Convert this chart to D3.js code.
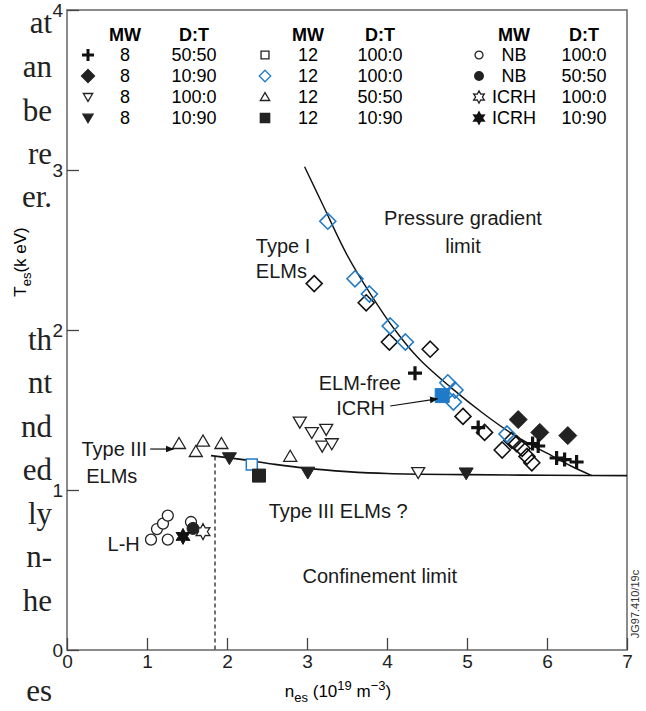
<!DOCTYPE html>
<html>
<head>
<meta charset="utf-8">
<script src="https://cdn.jsdelivr.net/npm/d3@7"></script>
<style>
  body { margin: 0; background: #fff; }
  svg { font-family: "Liberation Sans", Arial, sans-serif; }
</style>
</head>
<body>
<div id="chart"></div>
<script>
// values: [n_es, T_es]
var plus8_5050  = [[4.35,1.73],[5.14,1.39],[5.82,1.29],[5.89,1.275],[6.12,1.2],[6.22,1.19],[6.37,1.175]];
var dia8_1090   = [[5.64,1.44],[5.91,1.36],[6.26,1.34]];
var tdn8_1000   = [[2.91,1.425],[3.06,1.36],[3.24,1.38],[3.19,1.275],[3.31,1.29],[4.39,1.11]];
var tdnF8_1090  = [[2.03,1.2],[3.01,1.11],[4.99,1.105]];
var sq12_1000   = [[2.35,1.13]];
var diaB12_1000 = [[3.26,2.68],[3.6,2.32],[3.78,2.225],[4.04,2.025],[4.23,1.925],[4.76,1.67],[4.85,1.625],[4.83,1.55],[5.5,1.35]];
var tup12_5050  = [[1.4,1.29],[1.7,1.305],[1.61,1.24],[1.93,1.29],[2.79,1.21]];
var sqF12_1090  = [[2.4,1.09]];
var diaOpen     = [[3.09,2.29],[3.74,2.17],[4.03,1.925],[4.54,1.88],[4.95,1.46],[5.22,1.36],[5.44,1.25],[5.56,1.31],[5.62,1.29],[5.69,1.26],[5.75,1.21],[5.81,1.17]];
var elmFree     = [[4.69,1.59]];
var nb_1000     = [[1.05,0.69],[1.125,0.756],[1.2,0.79],[1.26,0.84],[1.26,0.69],[1.55,0.8]];
var nb_5050     = [[1.575,0.76]];
var icrh_1000   = [[1.7,0.74]];
var icrh_1090   = [[1.45,0.71]];

// limit curves
var pressureCurve = [[2.97,3.02],[3.2,2.78],[3.5,2.47],[3.8,2.22],[4.1,2.0],[4.4,1.82],[4.8,1.64],[5.2,1.48],[5.6,1.34],[6.0,1.23],[6.3,1.15],[6.56,1.09]];
var typeIIICurve  = [[1.8,1.215],[2.2,1.19],[2.6,1.16],[3.0,1.135],[3.5,1.115],[4.0,1.103],[5.0,1.096],[6.0,1.092],[7.0,1.09]];
var lhLine = [[1.85,1.21],[1.85,0]];

var xTicks = [0,1,2,3,4,5,6,7];
var yTicks = [0,1,2,3,4];

// legend columns: [symbol, MW, D:T]
var legendCols = [
  [["plus","8","50:50"],["diaF","8","10:90"],["tdn","8","100:0"],["tdnF","8","10:90"]],
  [["sq","12","100:0"],["diaB","12","100:0"],["tup","12","50:50"],["sqF","12","10:90"]],
  [["circ","NB","100:0"],["circF","NB","50:50"],["star","ICRH","100:0"],["starF","ICRH","10:90"]]
];

// clipped page text on the left
var pageText = ["at","an","be","re","er.","th","nt","nd","ed","ly","n-","he","es"];
var pageTextY = [22,66,110,153,196,339,382,426,469,513,556,600,690];

var W = 646, H = 711;
var svg = d3.select("#chart").append("svg")
  .attr("width", W).attr("height", H);

var x = d3.scaleLinear().domain([0,7]).range([67,627]);
var y = d3.scaleLinear().domain([0,4]).range([650,10]);

// page text fragments
svg.append("g").selectAll("text")
  .data(pageText)
  .join("text")
  .attr("x", 52)
  .attr("y", (d,i) => pageTextY[i])
  .attr("dy", "0.35em")
  .attr("text-anchor", "end")
  .attr("fill", "#222")
  .style("font-family", "'Liberation Serif', 'Times New Roman', serif")
  .style("font-size", "31px")
  .text(d => d);

// frame
svg.append("rect")
  .attr("x", x(0)).attr("y", y(4))
  .attr("width", x(7) - x(0)).attr("height", y(0) - y(4))
  .attr("fill", "none").attr("stroke", "#6e6e6e").attr("stroke-width", 1.6);

// axes (ticks pointing inward)
var xAxis = svg.append("g")
  .attr("transform", "translate(0," + y(0) + ")")
  .call(d3.axisBottom(x).tickValues(xTicks).tickSize(-12).tickPadding(5).tickFormat(d3.format("d")));
var yAxis = svg.append("g")
  .attr("transform", "translate(" + x(0) + ",0)")
  .call(d3.axisLeft(y).tickValues(yTicks).tickSize(-12).tickPadding(4).tickFormat(d3.format("d")));
[xAxis, yAxis].forEach(function(a) {
  a.select(".domain").remove();
  a.selectAll("line").attr("stroke", "#444").attr("stroke-width", 1.3);
  a.selectAll("text").style("font-size", "19px").attr("fill", "#222")
    .style("font-family", "'Liberation Sans', Arial, sans-serif");
});

// axis titles
var xt = svg.append("text")
  .attr("x", 338).attr("y", 697)
  .attr("text-anchor", "middle")
  .style("font-size", "17px");
xt.append("tspan").text("n");
xt.append("tspan").text("es").attr("dy", 5).style("font-size", "13px");
xt.append("tspan").text(" (10").attr("dy", -5);
xt.append("tspan").text("19").attr("dy", -7).style("font-size", "13px");
xt.append("tspan").text(" m").attr("dy", 7);
xt.append("tspan").text("\u22123").attr("dy", -7).style("font-size", "13px");
xt.append("tspan").text(")").attr("dy", 7);

var yt = svg.append("text")
  .attr("transform", "translate(26,262) rotate(-90)")
  .attr("text-anchor", "middle")
  .style("font-size", "17px");
yt.append("tspan").text("T");
yt.append("tspan").text("es").attr("dy", 5).style("font-size", "13px");
yt.append("tspan").text("(k eV)").attr("dy", -5);

// curves
var line = d3.line().x(d => x(d[0])).y(d => y(d[1])).curve(d3.curveMonotoneX);
svg.append("path").datum(pressureCurve)
  .attr("d", d3.line().x(d => x(d[0])).y(d => y(d[1])).curve(d3.curveCatmullRom))
  .attr("fill", "none").attr("stroke", "#111").attr("stroke-width", 1.4);
svg.append("path").datum(typeIIICurve)
  .attr("d", line)
  .attr("fill", "none").attr("stroke", "#111").attr("stroke-width", 1.6);
svg.append("path").datum(lhLine)
  .attr("d", d3.line().x(d => x(d[0])).y(d => y(d[1])))
  .attr("fill", "none").attr("stroke", "#111").attr("stroke-width", 1.2)
  .attr("stroke-dasharray", "4,3");

// marker shapes
function shape(t, s) {
  if (t === "plus") return "M" + (-s) + ",0H" + s + "M0," + (-s) + "V" + s;
  if (t.indexOf("dia") === 0) return "M0," + (-s) + "L" + s + ",0L0," + s + "L" + (-s) + ",0Z";
  if (t.indexOf("tdn") === 0) return "M" + (-s) + "," + (-s*0.75) + "L" + s + "," + (-s*0.75) + "L0," + (s*0.95) + "Z";
  if (t.indexOf("tup") === 0) return "M" + (-s) + "," + (s*0.75) + "L" + s + "," + (s*0.75) + "L0," + (-s*0.95) + "Z";
  if (t.indexOf("sq") === 0) return "M" + (-s) + "," + (-s) + "H" + s + "V" + s + "H" + (-s) + "Z";
  if (t.indexOf("circ") === 0) return d3.arc()({innerRadius: 0, outerRadius: s, startAngle: 0, endAngle: 2 * Math.PI});
  if (t.indexOf("star") === 0) {
    var p = [];
    for (var i = 0; i < 12; i++) {
      var r = i % 2 ? s * 0.55 : s, a = i * Math.PI / 6;
      p.push([r * Math.sin(a), -r * Math.cos(a)]);
    }
    return "M" + p.join("L") + "Z";
  }
}
var blue = "#1f7bc8";
var styles = {
  plus:  {s: 7,   fill: "none", stroke: "#111", sw: 3.2},
  diaF:  {s: 9,   fill: "#222", stroke: "#222", sw: 1},
  tdn:   {s: 6.5, fill: "#fff", stroke: "#222", sw: 1.3},
  tdnF:  {s: 7,   fill: "#222", stroke: "#222", sw: 1},
  sq:    {s: 5.5, fill: "#fff", stroke: blue,   sw: 1.5},
  diaB:  {s: 8,   fill: "none", stroke: blue,   sw: 1.6},
  tup:   {s: 6.5, fill: "#fff", stroke: "#222", sw: 1.3},
  sqF:   {s: 6.5, fill: "#222", stroke: "#222", sw: 1},
  diaO:  {s: 8,   fill: "none", stroke: "#111", sw: 1.6},
  sqB:   {s: 7,   fill: blue,   stroke: blue,   sw: 1},
  circ:  {s: 5.5, fill: "#fff", stroke: "#222", sw: 1.3},
  circF: {s: 6,   fill: "#222", stroke: "#222", sw: 1},
  star:  {s: 8,   fill: "#fff", stroke: "#222", sw: 1.2},
  starF: {s: 8,   fill: "#111", stroke: "#111", sw: 1}
};

function plot(data, t) {
  var st = styles[t];
  svg.append("g").selectAll("path")
    .data(data)
    .join("path")
    .attr("transform", d => "translate(" + x(d[0]) + "," + y(d[1]) + ")")
    .attr("d", shape(t, st.s))
    .attr("fill", st.fill).attr("stroke", st.stroke).attr("stroke-width", st.sw);
}
plot(tup12_5050, "tup");
plot(tdn8_1000, "tdn");
plot(tdnF8_1090, "tdnF");
plot(sq12_1000.map(d => [d[0] - 0.04, d[1] + 0.03]), "sq");
plot(sqF12_1090, "sqF");
plot(diaOpen, "diaO");
plot(diaB12_1000, "diaB");
plot(dia8_1090, "diaF");
plot(plus8_5050, "plus");
plot(elmFree, "sqB");
plot(nb_1000, "circ");
plot(icrh_1000, "star");
plot(nb_5050, "circF");
plot(icrh_1090, "starF");

// legend
var colX = [[88,125,194],[265,308,380],[479,514,584]];
var rowY = [55,76,97,118];
colX.forEach(function(c, ci) {
  svg.append("text").attr("x", c[1]).attr("y", 35).attr("dy", "0.35em")
    .attr("text-anchor", "middle").style("font-size", "18px").style("font-weight", "bold").text("MW");
  svg.append("text").attr("x", c[2]).attr("y", 35).attr("dy", "0.35em")
    .attr("text-anchor", "middle").style("font-size", "18px").style("font-weight", "bold").text("D:T");
  legendCols[ci].forEach(function(r, ri) {
    var st = styles[r[0]];
    var ls = r[0] === "plus" ? 6 : (r[0].indexOf("star") === 0 ? 6.2 : st.s * 0.72);
    svg.append("path")
      .attr("transform", "translate(" + c[0] + "," + rowY[ri] + ")")
      .attr("d", shape(r[0], ls))
      .attr("fill", st.fill).attr("stroke", r[0] === "sq" ? "#222" : st.stroke)
      .attr("stroke-width", r[0] === "plus" ? 3 : 1.3);
    svg.append("text").attr("x", c[1]).attr("y", rowY[ri]).attr("dy", "0.35em")
      .attr("text-anchor", "middle").style("font-size", "18px").text(r[1]);
    svg.append("text").attr("x", c[2]).attr("y", rowY[ri]).attr("dy", "0.35em")
      .attr("text-anchor", "middle").style("font-size", "18px").text(r[2]);
  });
});

// annotations [text, n, T, anchor]
var notes = [
  ["Pressure gradient", 4.95, 2.7, "middle"],
  ["limit", 4.95, 2.525, "middle"],
  ["Type I", 2.36, 2.525, "start"],
  ["ELMs", 2.36, 2.37, "start"],
  ["ELM-free", 3.66, 1.67, "middle"],
  ["ICRH", 3.67, 1.51, "middle"],
  ["Type III", 1.0, 1.256, "end"],
  ["ELMs", 0.56, 1.0875, "middle"],
  ["Type III ELMs ?", 3.39, 0.87, "middle"],
  ["L-H", 0.91, 0.66, "end"],
  ["Confinement limit", 3.91, 0.46, "middle"]
];
svg.append("g").selectAll("text")
  .data(notes)
  .join("text")
  .attr("x", d => x(d[1])).attr("y", d => y(d[2]))
  .attr("dy", "0.35em")
  .attr("text-anchor", d => d[3])
  .style("font-size", "20px").attr("fill", "#1a1a1a")
  .text(d => d[0]);

// arrows
svg.append("defs").append("marker")
  .attr("id", "ah").attr("viewBox", "0 0 10 10").attr("refX", 9).attr("refY", 5)
  .attr("markerWidth", 7).attr("markerHeight", 7).attr("orient", "auto")
  .append("path").attr("d", "M0,1L10,5L0,9Z").attr("fill", "#111");
var arrows = [[[1.04,1.256],[1.33,1.256]], [[4.04,1.525],[4.63,1.57]]];
svg.append("g").selectAll("path")
  .data(arrows)
  .join("path")
  .attr("d", d3.line().x(d => x(d[0])).y(d => y(d[1])))
  .attr("stroke", "#111").attr("stroke-width", 1.2).attr("fill", "none")
  .attr("marker-end", "url(#ah)");

// figure id
svg.append("text")
  .attr("transform", "translate(639,604) rotate(-90)")
  .attr("text-anchor", "middle")
  .style("font-size", "11px").attr("fill", "#333")
  .text("JG97.410/19c");
</script>
</body>
</html>
